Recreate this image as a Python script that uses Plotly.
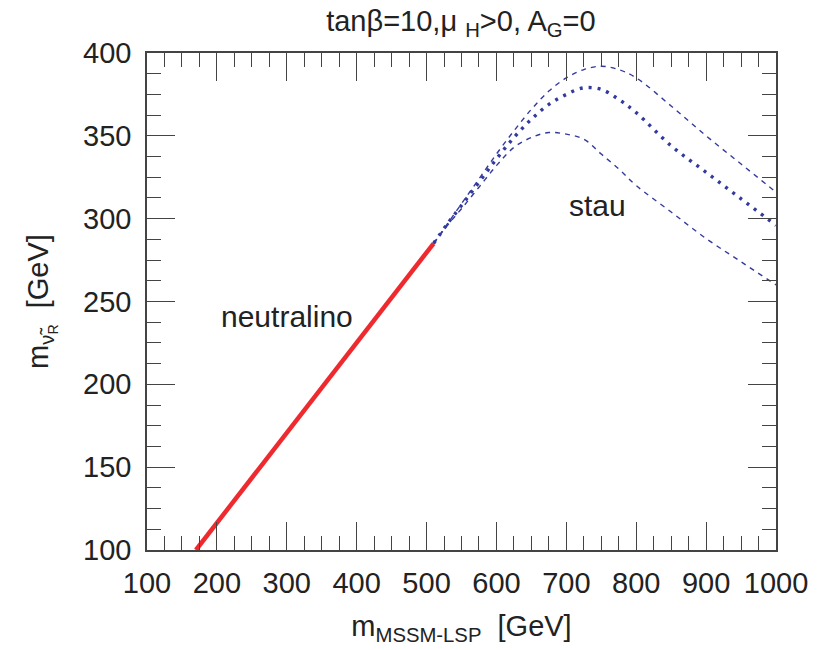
import plotly.graph_objects as go

# Neutralino LSP branch (linear segment)
neut_x = [170, 510]
neut_y = [100, 285]

# Stau LSP branch: central value and upper/lower bands
stau_x = [510, 530, 550, 575, 600, 625, 650, 675, 700, 725, 750, 775, 800, 850, 900, 950, 1000]
stau_mid = [285, 297, 308, 322, 336, 349, 360, 369, 375, 379, 378, 372, 364, 344, 328, 312, 296]
stau_up = [285, 297, 309, 324, 339, 353, 366, 377, 385, 390, 392, 390, 385, 368, 350, 333, 316]
stau_lo = [285, 296, 306, 319, 332, 343, 349, 352, 351, 348, 339, 330, 320, 304, 288, 274, 260]

x_ticks = [100, 200, 300, 400, 500, 600, 700, 800, 900, 1000]
y_ticks = [100, 150, 200, 250, 300, 350, 400]

FONT = "Liberation Sans, Arial, sans-serif"
BLUE = "#333a9e"
RED = "#ee2a2e"
INK = "#222"
FS = 29

fig = go.Figure()
for band in (stau_up, stau_lo):
    fig.add_trace(go.Scatter(x=stau_x, y=band, mode="lines", line_shape="spline",
                             line=dict(color=BLUE, width=1.4, dash="5px,5px")))
fig.add_trace(go.Scatter(x=stau_x, y=stau_mid, mode="lines", line_shape="spline",
                         line=dict(color=BLUE, width=3.4, dash="3px,6px")))
fig.add_trace(go.Scatter(x=neut_x, y=neut_y, mode="lines",
                         line=dict(color=RED, width=4.5)))

fig.add_annotation(x=300, y=241, text="neutralino", showarrow=False,
                   font=dict(size=30, color=INK, family=FONT))
fig.add_annotation(x=744, y=308, text="stau", showarrow=False,
                   font=dict(size=30, color=INK, family=FONT))

axis_common = dict(
    showgrid=False, zeroline=False, showline=True, linecolor="#444", linewidth=1.5,
    mirror="ticks", ticks="inside", ticklen=28, tickwidth=1.3, tickcolor="#444",
    tickfont=dict(size=FS, color=INK, family=FONT),
)

fig.update_xaxes(range=[100, 1000], tickvals=x_ticks, ticklabelstandoff=6,
                 minor=dict(ticks="inside", dtick=25, tick0=100, ticklen=14,
                            tickwidth=1.3, tickcolor="#444"),
                 title=dict(text="m<sub>MSSM-LSP</sub>  [GeV]", standoff=18,
                            font=dict(size=FS, color=INK, family=FONT)),
                 **axis_common)
fig.update_yaxes(range=[100, 400], tickvals=y_ticks, ticklabelstandoff=8,
                 minor=dict(ticks="inside", dtick=12.5, tick0=100, ticklen=14,
                            tickwidth=1.3, tickcolor="#444"),
                 title=dict(text="m<sub>ν̃<sub>R</sub></sub>  [GeV]", standoff=26,
                            font=dict(size=FS, color=INK, family=FONT)),
                 **axis_common)

fig.update_layout(
    width=823, height=650, showlegend=False,
    plot_bgcolor="white", paper_bgcolor="white",
    margin=dict(l=147, r=47, t=53, b=100),
    title=dict(text="tanβ=10,μ <sub>H</sub>>0, A<sub>G</sub>=0",
               x=0.56, xanchor="center", y=0.968, yanchor="middle",
               font=dict(size=FS, color=INK, family=FONT)),
)

fig.write_html("out.html")
